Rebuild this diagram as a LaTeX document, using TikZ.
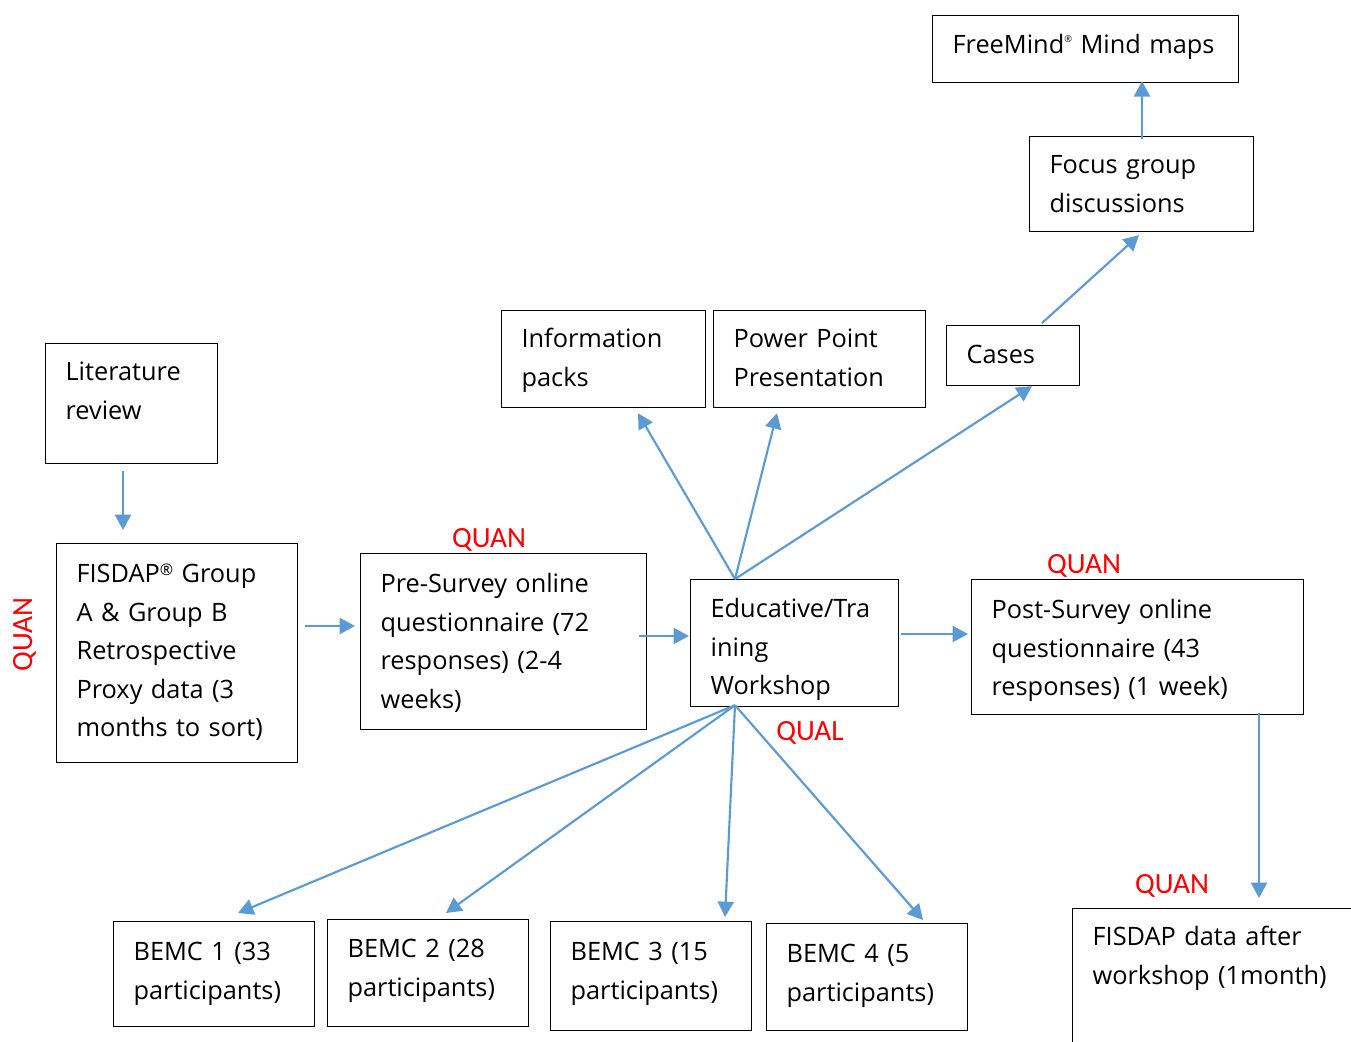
\documentclass[tikz,border=0pt]{standalone}
\usepackage{fontspec}
\setmainfont{Open Sans}
\newfontfamily\labfont{Carlito}
\usetikzlibrary{arrows.meta,calc}
\definecolor{arr}{HTML}{5B9BD5}
\definecolor{labred}{HTML}{FF0000}
\newcommand\drawbox[7]{%
 \pgfmathsetmacro\bxw{(#4-#2-40)*0.75}%
 \pgfmathsetmacro\bxh{(#6-#3)*0.75}%
 \pgfmathsetmacro\bxd{(#5-#6)*0.75}%
 \node[box, text width=\bxw pt, text height=\bxh pt, text depth=\bxd pt] (#1) at (#2,#3) {#7};}
\newcommand\smreg{{\fontsize{12}{12}\selectfont\raisebox{5.5pt}{®}}}
\newcommand\tinyreg{{\fontsize{7}{7}\selectfont\raisebox{8pt}{®}}}
\begin{document}
\begin{tikzpicture}[x=0.75pt,y=-0.75pt,
  box/.style={draw=black, line width=0.9pt, anchor=north west, inner xsep=15pt, inner ysep=0pt,
    align=left, font=\fontsize{19}{28.9}\selectfont},
  lab/.style={text=labred, font=\labfont\fontsize{22}{22}\selectfont, inner sep=0pt, anchor=base},
  conn/.style={draw=arr, line width=1.6pt, -{Triangle[length=11.5pt,width=12pt]}}]
\useasboundingbox (0,0) rectangle (1351,1041);
\fill[white] (0,0) rectangle (1351,1041);
\clip (0,0) rectangle (1351,1041);
% boxes
\drawbox{fm}{932}{15}{1238}{82}{53}{\mbox{FreeMind\tinyreg\ Mind maps}}
\drawbox{focus}{1029}{136}{1253}{231}{173}{Focus group\\discussions}
\drawbox{info}{501}{310}{705}{407}{347}{Information\\packs}
\drawbox{ppt}{713}{310}{925}{407}{347}{Power Point\\Presentation}
\drawbox{cases}{946}{325}{1079}{385}{363}{Cases}
\drawbox{lit}{45}{343}{217}{463}{380}{Literature\\review}
\drawbox{fis}{56}{543}{297}{762}{582}{FISDAP\smreg\ Group\\A \& Group B\\Retrospective\\Proxy data (3\\months to sort)}
\drawbox{pre}{360}{553}{646}{729}{592}{Pre-Survey online\\questionnaire (72\\responses) (2-4\\weeks)}
\drawbox{edu}{690}{579}{898}{706}{617}{Educative/Tra\\ining\\Workshop}
\drawbox{post}{971}{579}{1303}{714}{618}{Post-Survey online\\questionnaire (43\\responses) (1 week)}
\drawbox{b1}{113}{921}{314}{1026}{960}{BEMC 1 (33\\participants)}
\drawbox{b2}{327}{919}{528}{1026}{957}{BEMC 2 (28\\participants)}
\drawbox{b3}{550}{921}{751}{1030}{960}{BEMC 3 (15\\participants)}
\drawbox{b4}{766}{923}{967}{1030}{962}{BEMC 4 (5\\participants)}
\drawbox{fdata}{1072}{908}{1420}{1120}{945}{FISDAP data after\\workshop (1month)}
% red labels
\node[lab] (q1) at (489,547) {QUAN};
\node[lab] (q2) at (1084,573) {QUAN};
\node[lab] (ql) at (810,740) {QUAL};
\node[lab] (q4) at (1172,893) {QUAN};
\node[lab, rotate=90] (q5) at (32,634.5) {QUAN};
% connectors
\draw[conn] ($(lit.south west)+(78,7)$) -- ($(fis.north west)+(67,-13)$);
\draw[conn] ($(fis.north east)+(7,83)$) -- ($(pre.north west)+(-5,73)$);
\draw[conn] ($(pre.north east)+(-8,83)$) -- ($(edu.north west)+(-1,57)$);
\draw[conn] ($(edu.north east)+(2,55)$) -- ($(post.north west)+(-3,55)$);
\draw[conn] ($(post.south west)+(288,-2)$) -- ($(fdata.north west)+(187,-10)$);
\draw[conn] ($(edu.north west)+(45,0)$) -- ($(info.south west)+(137,5)$);
\draw[conn] ($(edu.north west)+(45,0)$) -- ($(ppt.south west)+(64,5)$);
\draw[conn] ($(edu.north west)+(45,0)$) -- ($(cases.south west)+(86,0)$);
\draw[conn] ($(cases.north west)+(96,-2)$) -- ($(focus.south west)+(110,3)$);
\draw[conn] ($(focus.north west)+(113,3)$) -- ($(fm.south west)+(210,-2)$);
\draw[conn] ($(edu.south west)+(45,-2)$) -- ($(b1.north west)+(125,-8)$);
\draw[conn] ($(edu.south west)+(45,-2)$) -- ($(b2.north west)+(119,-6)$);
\draw[conn] ($(edu.south west)+(45,-2)$) -- ($(b3.north west)+(175,-4)$);
\draw[conn] ($(edu.south west)+(45,-2)$) -- ($(b4.north west)+(157,-3)$);
\end{tikzpicture}
\end{document}
